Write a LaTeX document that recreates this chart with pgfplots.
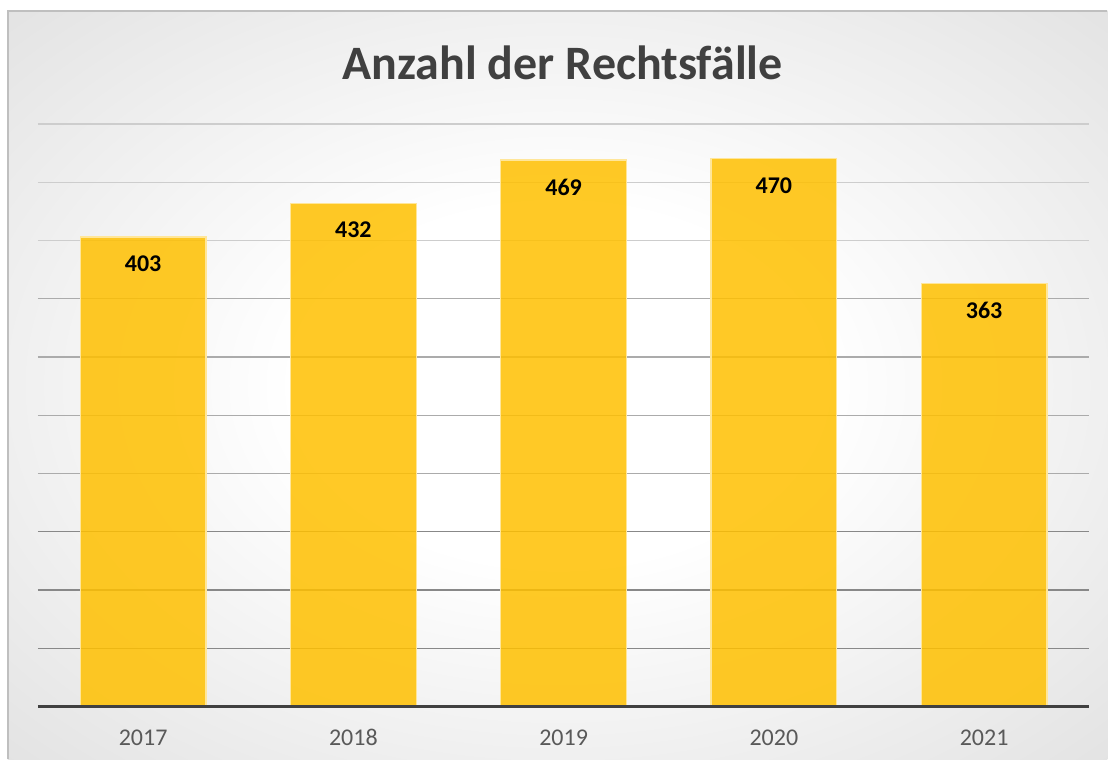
\documentclass[border=0pt]{standalone}
\usepackage{fontspec}
\setmainfont{Carlito}
\usepackage{pgfplots}
\pgfplotsset{compat=1.18}
\definecolor{baryellow}{HTML}{FFC000}
\definecolor{titlegray}{HTML}{404040}
\definecolor{ticklabelgray}{HTML}{595959}
\definecolor{gridA}{HTML}{CDCDCD}
\definecolor{gridB}{HTML}{ABABAB}
\definecolor{gridC}{HTML}{888888}
\pgfdeclareradialshading{panelshade}{\pgfpoint{0bp}{0bp}}{color(0bp)=(white); color(12bp)=(white); color(70bp)=(black!27)}
\begin{document}
\begin{tikzpicture}[x=1pt,y=1pt]
\fill[white] (0,0) rectangle (554,380);
\shade[shading=panelshade] (4,0) rectangle (554,374.5);
\draw[black!25, line width=0.75pt] (4,0) -- (4,374.5) -- (554,374.5);
\node[font=\fontsize{24}{28}\selectfont\bfseries, text=titlegray] at (281.5,348.5) {Anzahl der Rechtsfälle};
\begin{axis}[
  at={(19pt,26.5pt)}, anchor=south west,
  scale only axis, width=526pt, height=291.5pt,
  xmin=-0.5, xmax=4.5, ymin=0, ymax=500,
  enlarge x limits=false,
  ybar, bar width=63pt,
  axis line style={draw=none},
  xtick={0,1,2,3,4},
  xticklabels={2017,2018,2019,2020,2021},
  major tick length=0pt, minor tick length=0pt,
  xticklabel style={font=\fontsize{12}{14}\selectfont, text=ticklabelgray, yshift=-8pt},
  ytick={400,450,500}, yticklabels={},
  minor ytick={200,250,300,350},
  extra y ticks={50,100,150}, extra y tick labels={},
  ymajorgrids, yminorgrids,
  major grid style={draw=gridA, line width=0.6pt},
  minor grid style={draw=gridB, line width=0.6pt},
  extra y tick style={grid=major, major grid style={draw=gridC, line width=0.6pt}},
  nodes near coords={\pgfmathprintnumber[assume math mode=true]{\pgfplotspointmeta}},
  every node near coord/.append style={anchor=center, yshift=-13.5pt, font=\fontsize{12}{14}\selectfont\bfseries, text=black},
  clip=false,
]
\addplot[fill=baryellow, fill opacity=0.85, draw=white!60!baryellow, line width=0.6pt, text opacity=1]
  coordinates {(0,403) (1,432) (2,469) (3,470) (4,363)};
\draw[black!75, line width=1.6pt] (axis cs:-0.5,0) -- (axis cs:4.5,0);
\end{axis}
\end{tikzpicture}
\end{document}
